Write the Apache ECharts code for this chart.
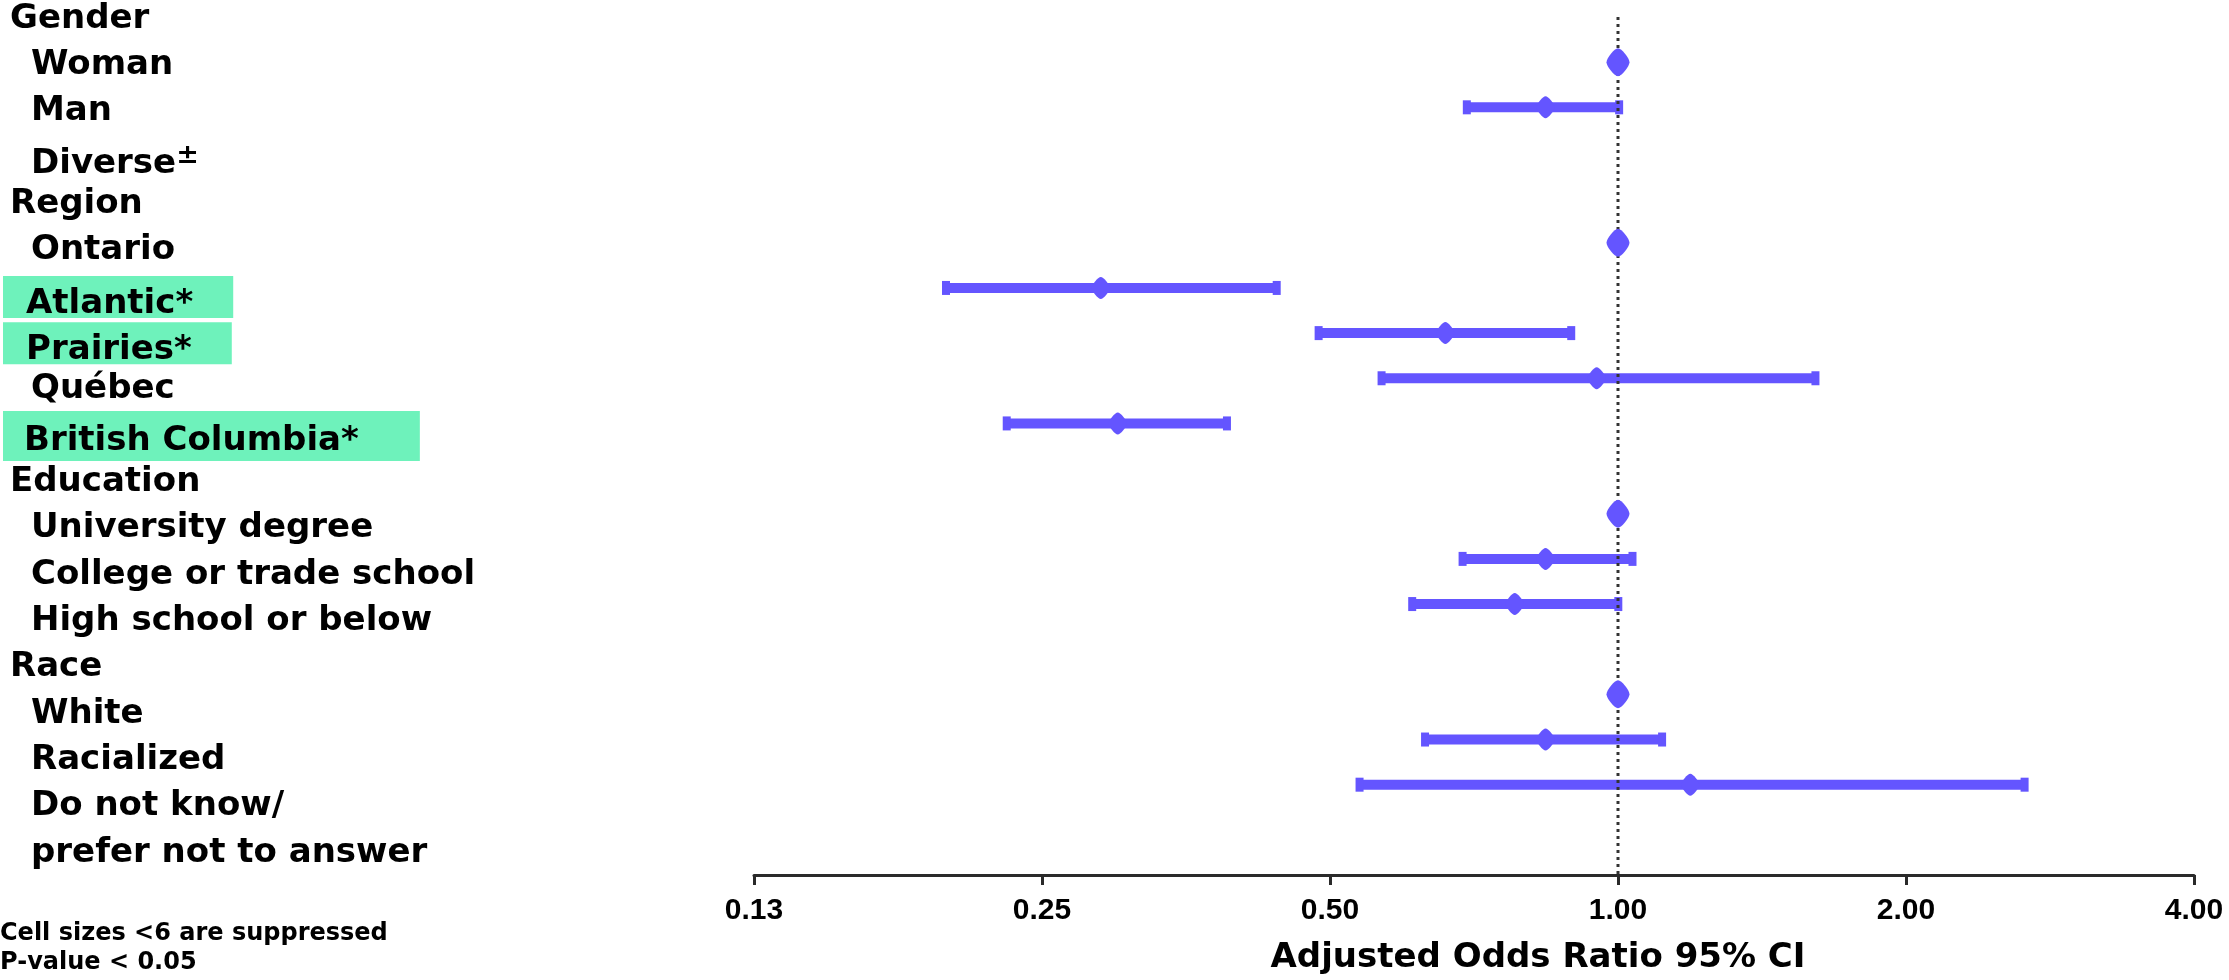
<!DOCTYPE html>
<html>
<head>
<meta charset="utf-8">
<script src="https://cdn.jsdelivr.net/npm/echarts@6/dist/echarts.min.js"></script>
<style>
  html, body { margin: 0; padding: 0; background: #ffffff; }
  #chart { width: 2229px; height: 980px; }
</style>
</head>
<body>
<div id="chart"></div>
<script>
// ---------------- data ----------------
const rowLabels = [
  'Gender', 'Woman', 'Man', 'Diverse', 'Region', 'Ontario', 'Atlantic*', 'Prairies*',
  'Québec', 'British Columbia*', 'Education', 'University degree', 'College or trade school',
  'High school or below', 'Race', 'White', 'Racialized', 'Do not know/', 'prefer not to answer'
];
// h = group header, i = item, d = item with ± note, s = significant (highlighted), w = significant, wide box
const rowKinds = ['h','i','i','d','h','i','s','s','i','w','h','i','i','i','h','i','i','i','i'];
const oddsRatio = [null, 1, 0.84, null, null, 1, 0.288, 0.66, 0.95, 0.30, null, 1, 0.84, 0.78, null, 1, 0.84, 1.19, null];
const lowerCI   = [null, null, 0.69, null, null, null, 0.197, 0.483, 0.562, 0.228, null, null, 0.683, 0.605, null, null, 0.624, 0.533, null];
const upperCI   = [null, null, 1.01, null, null, null, 0.443, 0.90, 1.62, 0.393, null, null, 1.043, 1.008, null, null, 1.12, 2.68, null];
const isReference = [false, true, false, false, false, true, false, false, false, false, false, true, false, false, false, true, false, false, false];
const xTickMin = 0.125, xTickMax = 4;
const axisTitle = 'Adjusted Odds Ratio 95% CI';
const footnotes = ['Cell sizes <6 are suppressed', 'P-value < 0.05'];
const referenceValue = 1;

// ---------------- build ----------------
const markColor = '#6455FF';
const greenColor = '#6EF2BB';
const labelFont = 'DejaVu Sans';

const whiskerData = [];
const pointData = [];
for (let i = 0; i < rowLabels.length; i++) {
  if (oddsRatio[i] == null) continue;
  if (lowerCI[i] != null) whiskerData.push([lowerCI[i], upperCI[i], i]);
  pointData.push([oddsRatio[i], i, isReference[i] ? 1 : 0]);
}
const nRows = rowLabels.length; // plot axis runs 0..nRows (last slot = x axis)

const chart = echarts.init(document.getElementById('chart'), null, { renderer: 'canvas' });

const option = {
  backgroundColor: '#ffffff',
  animation: false,
  title: {
    text: footnotes.join('\n'),
    left: 0, top: 919, padding: 0,
    textStyle: { fontFamily: labelFont, fontWeight: 'bold', fontSize: 24, lineHeight: 29, color: '#000' }
  },
  grid: [
    { left: 754, right: 35, top: 17, bottom: 104 },
    { left: 0, width: 700, top: 19, bottom: 127 }
  ],
  xAxis: [
    {
      gridIndex: 0, position: 'bottom',
      type: 'log', logBase: 2, min: xTickMin, max: xTickMax, splitNumber: 5,
      axisLine: { show: true, onZero: false, lineStyle: { color: '#2a2a2a', width: 3 } },
      axisTick: { show: true, length: 10, lineStyle: { color: '#2a2a2a', width: 3 } },
      splitLine: { show: false },
      axisLabel: {
        margin: 21, fontFamily: 'Liberation Sans', fontWeight: 'bold', fontSize: 30, color: '#000',
        formatter: v => Number(v).toFixed(2)
      },
      name: axisTitle, nameLocation: 'middle', nameGap: 66,
      nameTextStyle: { fontFamily: labelFont, fontWeight: 'bold', fontSize: 34, color: '#000', padding: [0, 0, 0, 128] }
    },
    { gridIndex: 1, type: 'value', show: false, min: 0, max: 1 }
  ],
  yAxis: [
    { gridIndex: 0, type: 'value', min: 0, max: nRows, inverse: true, show: false },
    {
      gridIndex: 1, type: 'category', data: rowLabels, inverse: true, boundaryGap: false,
      axisLine: { show: false }, axisTick: { show: false }, splitLine: { show: false },
      axisLabel: {
        inside: true, margin: 0, interval: 0, align: 'left',
        formatter: (val, idx) => {
          const k = rowKinds[idx];
          if (k === 'd') return '{d|' + val + '}{sup|±}';
          return '{' + k + '|' + val + '}';
        },
        rich: {
          h: { fontFamily: labelFont, fontWeight: 'bold', fontSize: 34, color: '#000', padding: [0, 0, 0, 7] },
          i: { fontFamily: labelFont, fontWeight: 'bold', fontSize: 34, color: '#000', padding: [0, 0, 0, 28] },
          d: { fontFamily: labelFont, fontWeight: 'bold', fontSize: 34, color: '#000', padding: [12, 0, 0, 28] },
          sup: { fontFamily: labelFont, fontWeight: 'bold', fontSize: 27, color: '#000', padding: [0, 0, 4, 0] },
          s: { fontFamily: labelFont, fontWeight: 'bold', fontSize: 34, color: '#000', backgroundColor: greenColor,
               height: 18, padding: [19, 40, 5, 23] },
          w: { fontFamily: labelFont, fontWeight: 'bold', fontSize: 34, color: '#000', backgroundColor: greenColor,
               height: 18, padding: [21, 61, 11, 21] }
        }
      }
    }
  ],
  series: [
    {
      type: 'custom', xAxisIndex: 0, yAxisIndex: 0, z: 2, clip: false,
      data: whiskerData,
      encode: { x: [0, 1], y: 2 },
      renderItem: (params, api) => {
        const p1 = api.coord([api.value(0), api.value(2)]);
        const p2 = api.coord([api.value(1), api.value(2)]);
        const style = { fill: markColor };
        return {
          type: 'group',
          children: [
            { type: 'rect', shape: { x: p1[0], y: p1[1] - 5, width: p2[0] - p1[0], height: 10 }, style },
            { type: 'rect', shape: { x: p1[0] - 1, y: p1[1] - 7, width: 8, height: 14 }, style },
            { type: 'rect', shape: { x: p2[0] - 7, y: p2[1] - 7, width: 8, height: 14 }, style }
          ]
        };
      }
    },
    {
      type: 'line', xAxisIndex: 0, yAxisIndex: 0, z: 3,
      data: [[referenceValue, 0], [referenceValue, nRows]],
      symbol: 'none', silent: true,
      lineStyle: { color: '#333333', width: 3, type: [3, 4] }
    },
    {
      type: 'custom', xAxisIndex: 0, yAxisIndex: 0, z: 4, clip: false,
      data: pointData,
      encode: { x: 0, y: 1 },
      renderItem: (params, api) => {
        const p = api.coord([api.value(0), api.value(1)]);
        const ref = api.value(2) === 1;
        const hw = ref ? 11.5 : 9, hh = ref ? 14 : 11;
        return {
          type: 'polygon',
          shape: { points: [[p[0], p[1] - hh], [p[0] + hw, p[1]], [p[0], p[1] + hh], [p[0] - hw, p[1]]], smooth: 0.3 },
          style: { fill: markColor }
        };
      }
    }
  ]
};
chart.setOption(option);
</script>
</body>
</html>
